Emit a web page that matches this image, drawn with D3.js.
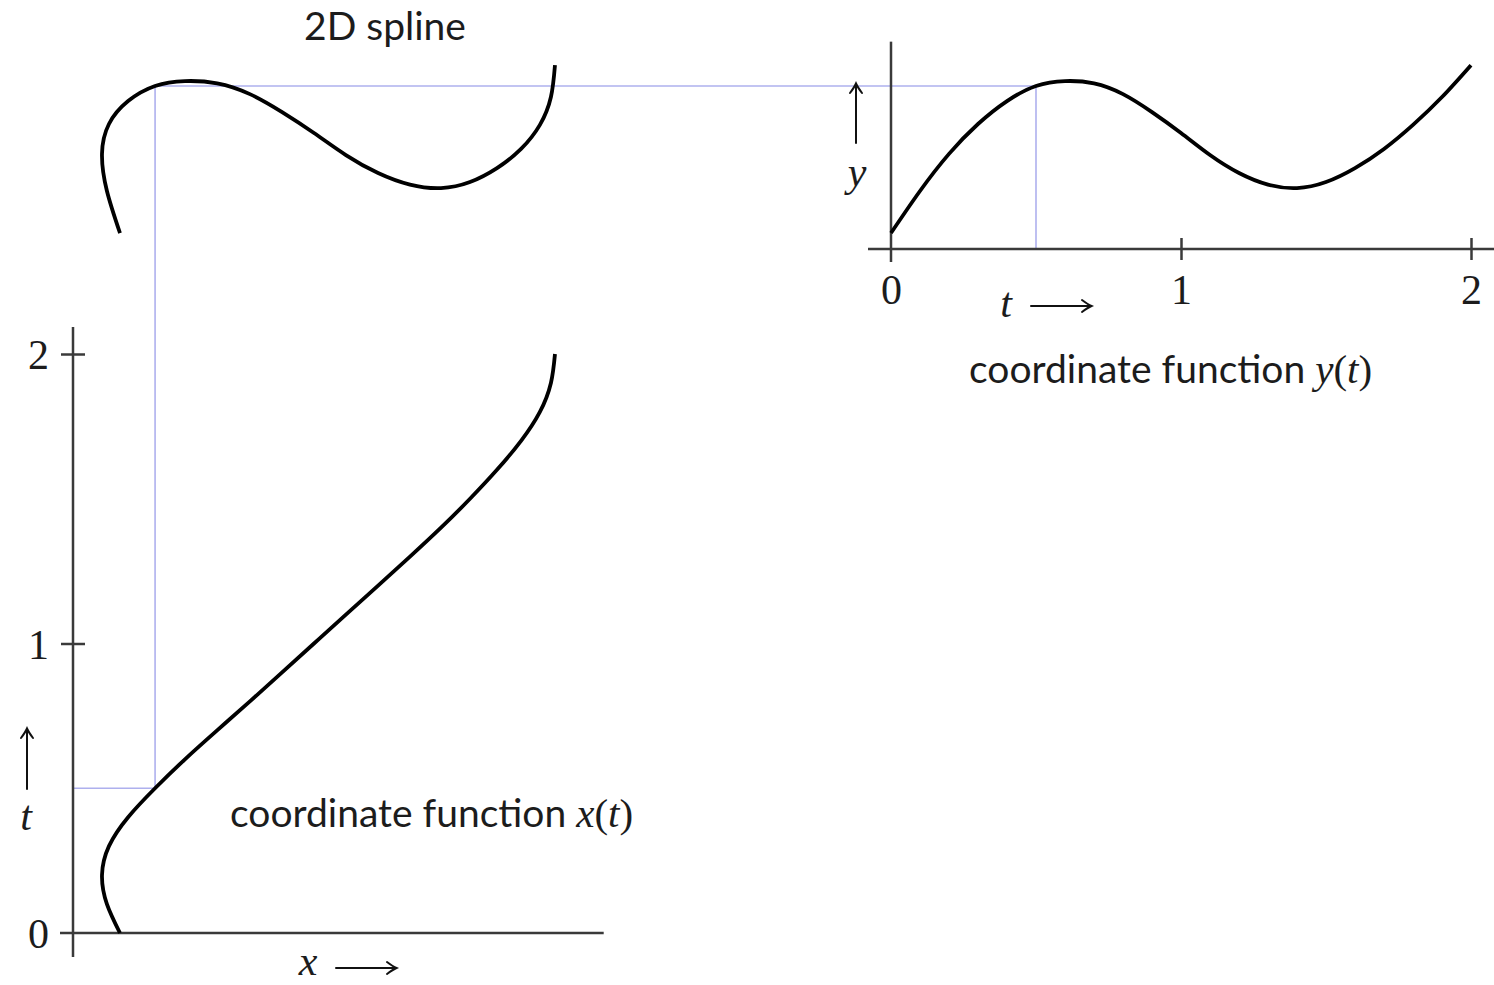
<!DOCTYPE html>
<html>
<head>
<meta charset="utf-8">
<script src="https://cdn.jsdelivr.net/npm/d3@7"></script>
<style>
  html, body { margin: 0; padding: 0; background: #fff; }
  svg { display: block; }
</style>
</head>
<body>
<svg id="chart" width="1494" height="985"></svg>
<script>
// Spline samples: parameter t and the two coordinate functions x(t), y(t)
const tValues = [0, 0.1, 0.2, 0.3, 0.4, 0.5, 0.6, 0.7, 0.8, 0.9, 1.0,
                 1.1, 1.2, 1.3, 1.4, 1.5, 1.6, 1.7, 1.8, 1.9, 2.0];
const xValues = [0.162, 0.117, 0.100, 0.124, 0.190, 0.283, 0.386, 0.497, 0.610, 0.721, 0.831,
                 0.941, 1.052, 1.162, 1.269, 1.369, 1.462, 1.545, 1.610, 1.648, 1.662];
const yValues = [0.055, 0.200, 0.328, 0.431, 0.510, 0.562, 0.579, 0.571, 0.534, 0.472, 0.400,
                 0.324, 0.262, 0.222, 0.210, 0.231, 0.279, 0.345, 0.428, 0.524, 0.634];
const tTickValues = [0, 1, 2];
const tMarked = 0.5;           // parameter value traced by the guide lines
const titleText = "2D spline";
const captionText = "coordinate function ";

const svg = d3.select("#chart");

const SANS = "Lato, 'Open Sans', sans-serif";
const SERIF = "'Liberation Serif', 'DejaVu Serif', serif";
const AXIS_COLOR = "#3a3a3a";
const GUIDE_COLOR = "#aeb0ee";
const TEXT_COLOR = "#1c1c1c";

// Scales: left panel has t vertical / x horizontal, right panel t horizontal / y vertical.
// The 2D spline reuses the x scale of the left panel and the y scale of the right panel.
const tLeft  = d3.scaleLinear().domain([0, 2]).range([933, 354]);
const xLeft  = d3.scaleLinear().domain([0, 1]).range([73, 363]);
const tRight = d3.scaleLinear().domain([0, 2]).range([891, 1471]);
const yRight = d3.scaleLinear().domain([0, 1]).range([249, -41]);

const samples = tValues.map((t, i) => ({ t, x: xValues[i], y: yValues[i] }));
const marked = samples.find(d => Math.abs(d.t - tMarked) < 1e-9);

// samples are evenly spaced in t, so a natural cubic spline per coordinate
// gives the parametric spline in every view
const curve = d3.curveNatural;
const lineXt = d3.line().x(d => xLeft(d.x)).y(d => tLeft(d.t)).curve(curve);
const lineYt = d3.line().x(d => tRight(d.t)).y(d => yRight(d.y)).curve(curve);
const line2D = d3.line().x(d => xLeft(d.x)).y(d => yRight(d.y)).curve(curve);

// ---- guide lines through the marked parameter value ----
const guides = svg.append("g")
  .attr("stroke", GUIDE_COLOR).attr("stroke-width", 1.6).attr("fill", "none");
guides.append("line")
  .attr("x1", xLeft(0)).attr("x2", xLeft(marked.x))
  .attr("y1", tLeft(marked.t)).attr("y2", tLeft(marked.t));
guides.append("line")
  .attr("x1", xLeft(marked.x)).attr("x2", xLeft(marked.x))
  .attr("y1", tLeft(marked.t)).attr("y2", yRight(marked.y));
guides.append("line")
  .attr("x1", xLeft(marked.x)).attr("x2", tRight(marked.t))
  .attr("y1", yRight(marked.y)).attr("y2", yRight(marked.y));
guides.append("line")
  .attr("x1", tRight(marked.t)).attr("x2", tRight(marked.t))
  .attr("y1", yRight(marked.y)).attr("y2", yRight(0));

// ---- axis lines ----
const axisLines = svg.append("g").attr("stroke", AXIS_COLOR).attr("stroke-width", 2.5);
axisLines.append("line")
  .attr("x1", xLeft(0)).attr("x2", xLeft(0))
  .attr("y1", tLeft(2) - 27).attr("y2", tLeft(0) + 24);
axisLines.append("line")
  .attr("x1", xLeft(0) - 13).attr("x2", xLeft(1.83))
  .attr("y1", tLeft(0)).attr("y2", tLeft(0));
axisLines.append("line")
  .attr("x1", tRight(0)).attr("x2", tRight(0))
  .attr("y1", yRight(0.715)).attr("y2", yRight(0) + 13);
axisLines.append("line")
  .attr("x1", tRight(0) - 23).attr("x2", 1494)
  .attr("y1", yRight(0)).attr("y2", yRight(0));

// ---- tick marks and numbers ----
const axL = svg.append("g")
  .attr("transform", `translate(${xLeft(0)},0)`)
  .call(d3.axisLeft(tLeft).tickValues(tTickValues).tickFormat(d3.format("d")).tickSizeOuter(0));
axL.select(".domain").remove();
axL.selectAll(".tick line")
  .attr("x1", d => d === 0 ? 0 : -12).attr("x2", d => d === 0 ? 0 : 12)
  .attr("stroke", AXIS_COLOR).attr("stroke-width", 2.5);
axL.selectAll(".tick text")
  .attr("x", -24).attr("dy", "0.35em")
  .attr("fill", TEXT_COLOR).attr("font-family", SERIF).attr("font-size", 42)
  .attr("text-anchor", "end");

const axR = svg.append("g")
  .attr("transform", `translate(0,${yRight(0)})`)
  .call(d3.axisBottom(tRight).tickValues(tTickValues).tickFormat(d3.format("d")).tickSizeOuter(0));
axR.select(".domain").remove();
axR.selectAll(".tick line")
  .attr("y1", d => d === 0 ? 0 : -11).attr("y2", d => d === 0 ? 0 : 11)
  .attr("stroke", AXIS_COLOR).attr("stroke-width", 2.5);
axR.selectAll(".tick text")
  .attr("y", 55).attr("dy", 0)
  .attr("fill", TEXT_COLOR).attr("font-family", SERIF).attr("font-size", 42);

// ---- curves ----
const curves = svg.append("g")
  .attr("fill", "none").attr("stroke", "#000").attr("stroke-width", 3.8)
  .attr("stroke-linecap", "butt");
curves.append("path").attr("d", lineXt(samples));
curves.append("path").attr("d", lineYt(samples));
curves.append("path").attr("d", line2D(samples));

// ---- long arrows used in the axis labels ----
function arrow(x1, y1, x2, y2) {
  const ang = Math.atan2(y2 - y1, x2 - x1) * 180 / Math.PI;
  const g = svg.append("g").attr("stroke", "#111").attr("fill", "none")
    .attr("stroke-width", 2).attr("stroke-linecap", "round");
  g.append("line").attr("x1", x1).attr("y1", y1).attr("x2", x2).attr("y2", y2);
  g.append("path")
    .attr("transform", `translate(${x2},${y2}) rotate(${ang})`)
    .attr("d", "M-9,-6 Q-3,-1.5 0.5,0 Q-3,1.5 -9,6");
}

function mathLabel(x, y, s) {
  svg.append("text")
    .attr("x", x).attr("y", y).attr("text-anchor", "middle")
    .attr("font-family", SERIF).attr("font-style", "italic").attr("font-size", 42)
    .attr("fill", TEXT_COLOR).text(s);
}

// left panel labels
arrow(27, 789, 27, 729);
mathLabel(26, 830, "t");
mathLabel(308, 975, "x");
arrow(336, 968, 396, 968);

// right panel labels
arrow(856, 143, 856, 84);
mathLabel(857, 186, "y");
mathLabel(1006, 317, "t");
arrow(1031, 306, 1091, 306);

// ---- captions ----
function caption(x, y, fn) {
  const txt = svg.append("text")
    .attr("x", x).attr("y", y)
    .attr("font-family", SANS).attr("font-size", 39).attr("fill", TEXT_COLOR);
  txt.append("tspan").text(captionText);
  txt.append("tspan").attr("font-family", SERIF).attr("font-style", "italic")
    .attr("font-size", 41).text(fn);
  txt.append("tspan").attr("font-family", SERIF).attr("font-size", 41).text("(");
  txt.append("tspan").attr("font-family", SERIF).attr("font-style", "italic")
    .attr("font-size", 41).text("t");
  txt.append("tspan").attr("font-family", SERIF).attr("font-size", 41).text(")");
}
caption(230, 827, "x");
caption(969, 383, "y");

svg.append("text")
  .attr("x", 385).attr("y", 40).attr("text-anchor", "middle")
  .attr("font-family", SANS).attr("font-size", 39).attr("fill", TEXT_COLOR)
  .text(titleText);
</script>
</body>
</html>
